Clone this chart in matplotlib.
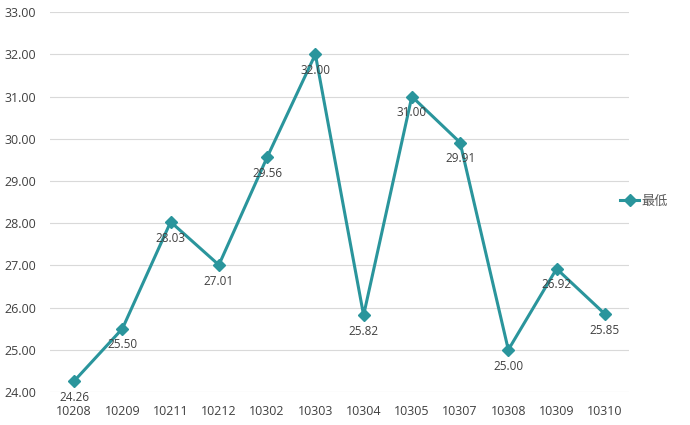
import matplotlib
matplotlib.use("Agg")
import matplotlib.pyplot as plt

plt.rcParams['font.family'] = ['Open Sans', 'Noto Sans CJK SC', 'DejaVu Sans']

categories = ["10208", "10209", "10211", "10212", "10302", "10303",
              "10304", "10305", "10307", "10308", "10309", "10310"]
low_values = [24.26, 25.50, 28.03, 27.01, 29.56, 32.00,
              25.82, 31.00, 29.91, 25.00, 26.92, 25.85]
y_ticks = [24, 25, 26, 27, 28, 29, 30, 31, 32, 33]

color = "#2A959C"
fig = plt.figure(figsize=(6.9, 4.25), dpi=100)
ax = fig.add_axes([0.0725, 0.0776, 0.839, 0.894])

xs = list(range(len(categories)))
ax.plot(xs, low_values, color=color, lw=2.2, marker="D", markersize=6.5,
        label="最低", zorder=3)

for x, v in zip(xs, low_values):
    ax.annotate(f"{v:.2f}", (x, v), xytext=(0, -7), textcoords="offset points",
                ha="center", va="top", fontsize=8.5, color="#404040", zorder=4)

ax.set_xlim(-0.5, len(categories) - 0.5)
ax.set_ylim(24, 33)
ax.set_yticks(y_ticks)
ax.set_yticklabels([f"{t:.2f}" for t in y_ticks])
ax.set_xticks(xs)
ax.set_xticklabels(categories)
ax.grid(axis="y", color="#d9d9d9", lw=0.8)
ax.set_axisbelow(True)
for s in ax.spines.values():
    s.set_visible(False)
ax.tick_params(length=0, labelsize=9, colors="#404040")
ax.tick_params(axis="x", pad=9)
ax.tick_params(axis="y", pad=10)

leg = fig.legend(loc="center left", bbox_to_anchor=(0.882, 0.527), frameon=False,
                 fontsize=9.5, handlelength=1.4, handletextpad=0.2)
for t in leg.get_texts():
    t.set_color("#595959")

fig.savefig("out.png", dpi=100)
